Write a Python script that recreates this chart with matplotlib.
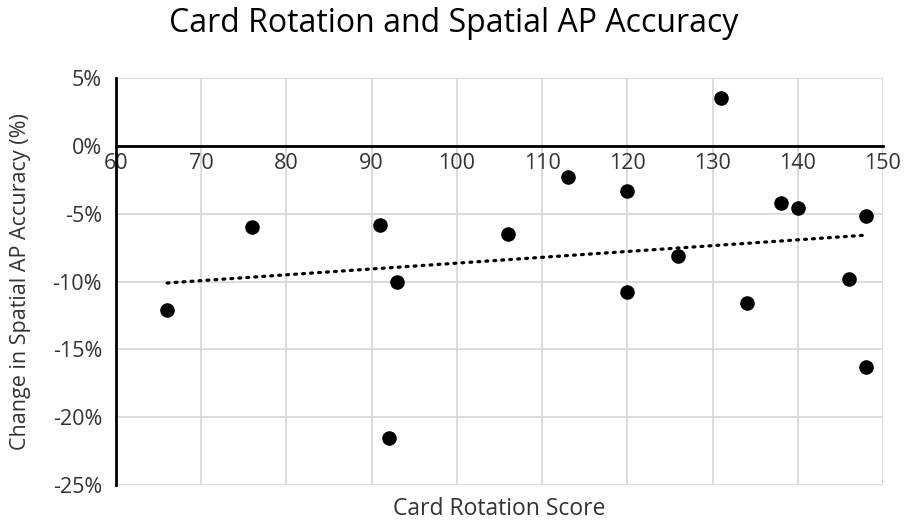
import numpy as np
import matplotlib
matplotlib.use("Agg")
import matplotlib.pyplot as plt
from matplotlib.ticker import FuncFormatter

plt.rcParams['font.family'] = ['Open Sans', 'DejaVu Sans']

# Card rotation score vs change in spatial AP accuracy (%)
card_rotation = [66, 76, 91, 92, 93, 106, 113, 120, 120, 126, 131, 134, 138, 140, 146, 148, 148]
accuracy_change = [-12.1, -6.0, -5.8, -21.5, -10.0, -6.5, -2.3, -3.3, -10.8, -8.1, 3.5,
                   -11.6, -4.2, -4.6, -9.8, -5.2, -16.3]

x_ticks = [60, 70, 80, 90, 100, 110, 120, 130, 140, 150]
y_ticks = [5, 0, -5, -10, -15, -20, -25]

fig = plt.figure(figsize=(9.07, 5.24), dpi=100)
ax = fig.add_axes([0.1279, 0.0744, 0.8456, 0.7767])

ax.set_xlim(60, 150)
ax.set_ylim(-25, 5)
ax.set_xticks(x_ticks)
ax.set_yticks(y_ticks)

ax.grid(True, color='#d9d9d9', linewidth=1.3, zorder=0)
ax.set_axisbelow(True)

for side in ('top', 'right'):
    ax.spines[side].set_visible(False)
ax.spines['left'].set_linewidth(2)
ax.spines['left'].set_color('black')
ax.spines['bottom'].set_position(('data', 0))
ax.spines['bottom'].set_linewidth(2)
ax.spines['bottom'].set_color('black')

# light frame on the remaining edges
ax.axhline(-25, color='#d9d9d9', linewidth=1.3, zorder=0)
ax.axvline(150, color='#d9d9d9', linewidth=1.3, zorder=0)

ax.tick_params(axis='both', length=0, labelsize=15.5, colors='#333333')
ax.tick_params(axis='x', pad=5)
ax.tick_params(axis='y', pad=10)
ax.yaxis.set_major_formatter(FuncFormatter(lambda v, p: f"{v:.0f}%"))

ax.scatter(card_rotation, accuracy_change, s=110, color='black', zorder=3, linewidths=0)

# linear trendline
slope, intercept = np.polyfit(card_rotation, accuracy_change, 1)
tx = np.array([min(card_rotation), max(card_rotation)])
ax.plot(tx, slope * tx + intercept, color='black', linewidth=2.3,
        linestyle=(0, (0.6, 1.9)), dash_capstyle='round', zorder=2)

fig.text(0.5, 0.955, 'Card Rotation and Spatial AP Accuracy', ha='center', va='center',
         fontsize=23, color='black')
ax.set_xlabel('Card Rotation Score', fontsize=16.5, color='#333333', labelpad=0)
ax.xaxis.set_label_coords(0.5, -0.03)
ax.set_ylabel('Change in Spatial AP Accuracy (%)', fontsize=15.5, color='#333333',
              va='center')
ax.yaxis.set_label_coords(-0.124, 0.5)

fig.savefig('out.png', dpi=100)
